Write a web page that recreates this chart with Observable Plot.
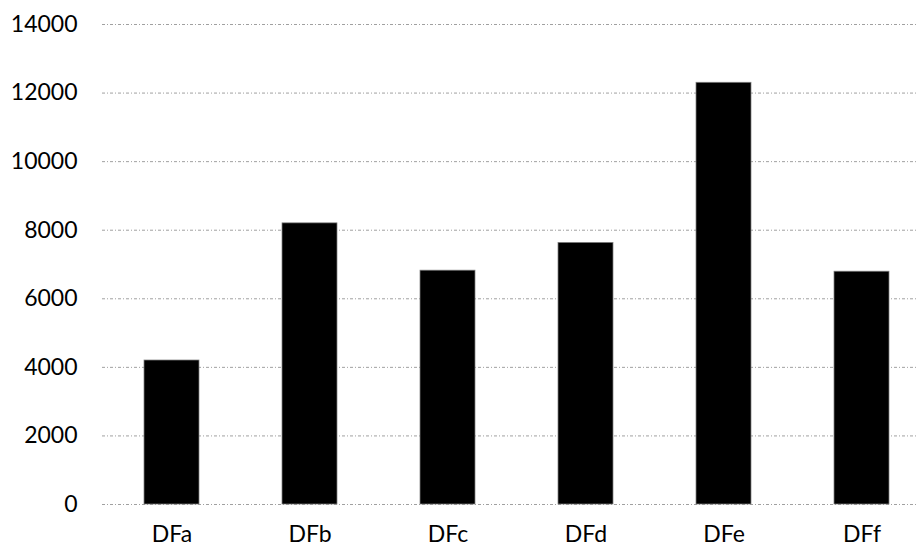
<!DOCTYPE html>
<html>
<head>
<meta charset="utf-8">
<script src="https://cdn.jsdelivr.net/npm/d3@7"></script>
<script src="https://cdn.jsdelivr.net/npm/@observablehq/plot@0.6"></script>
<style>
  html, body { margin: 0; padding: 0; background: #fff; }
  #chart svg { display: block; }
</style>
</head>
<body>
<div id="chart"></div>
<script>
const categories = ["DFa", "DFb", "DFc", "DFd", "DFe", "DFf"];
const values = [4200, 8200, 6820, 7630, 12300, 6790];
const yTicks = [0, 2000, 4000, 6000, 8000, 10000, 12000, 14000];

const data = categories.map((c, i) => ({category: c, value: values[i]}));

const chart = Plot.plot({
  width: 918,
  height: 547,
  marginLeft: 102,
  marginRight: -14,
  marginTop: 24,
  marginBottom: 43,
  style: {fontFamily: "Lato, sans-serif", fontSize: "23px", color: "#000", background: "#fff"},
  x: {domain: categories, paddingInner: 0.6, paddingOuter: 0.3, label: null, tickSize: 0, tickPadding: 21},
  y: {domain: [0, 14000], ticks: yTicks, label: null, tickSize: 0, tickPadding: 25, tickFormat: d => String(d)},
  marks: [
    Plot.ruleY(yTicks, {stroke: "#a0a0a0", strokeWidth: 1, strokeDasharray: "3,2,1,2"}),
    Plot.barY(data, {x: "category", y: "value", fill: "#000", stroke: "#7f7f7f", strokeWidth: 0.75})
  ]
});
document.getElementById("chart").appendChild(chart);
</script>
</body>
</html>
